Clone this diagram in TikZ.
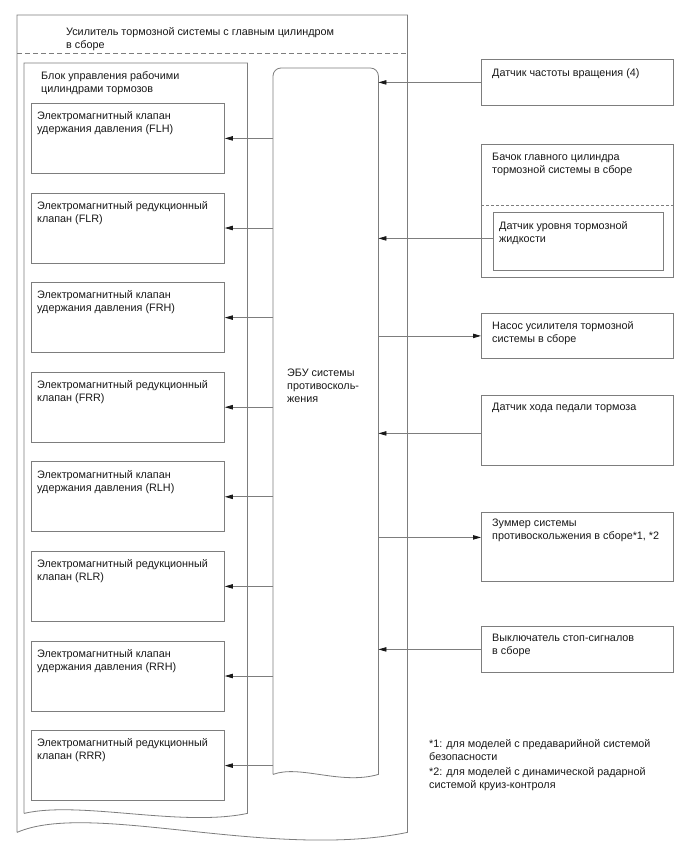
\documentclass[tikz,border=0pt]{standalone}
\usepackage{fontspec}
\setmainfont{Liberation Sans}
\usetikzlibrary{arrows.meta,calc}
\definecolor{lc}{RGB}{125,125,125}
\definecolor{tc}{RGB}{25,25,25}
\begin{document}
\begin{tikzpicture}[x=1pt,y=-1pt,
  line/.style={draw=lc, line width=0.8pt},
  box/.style={line, rectangle, inner sep=0pt, anchor=north west},
  region/.style={inner sep=0pt, anchor=north west},
  txt/.style={text=tc, align=left, inner sep=0pt, anchor=north west, font=\fontsize{10.8}{13}\selectfont},
  arr/.style={draw=lc, line width=0.8pt, -{Triangle[length=8pt,width=4.4pt,color=tc]}},
]
\fill[white] (0,0) rectangle (688,852);
\useasboundingbox (0,0) rectangle (688,852);

% outer assembly
\node[region, minimum width=390, minimum height=817] (booster) at (17,15) {};
\draw[line] (booster.south west) -- (booster.north west) -- (booster.north east) -- (booster.south east)
  .. controls +(-137,28) and +(73,-32) .. (booster.south west);
\coordinate (dl) at (17,53);
\draw[line, dash pattern=on 5pt off 3pt] (dl) -- (dl -| booster.east);
\node[txt] (btitle) at ([xshift=49pt,yshift=-12.5pt]booster.north west)
  {Усилитель тормозной системы с главным цилиндром\\в сборе};

% block of wheel cylinders
\node[region, minimum width=223, minimum height=750] (block) at (24,63) {};
\draw[line] (block.south west) -- (block.north west) -- (block.north east) -- (block.south east)
  .. controls +(-67,14) and +(56,-13) .. (block.south west);
\node[txt] (bltitle) at ([xshift=17pt,yshift=-8.5pt]block.north west)
  {Блок управления рабочими\\цилиндрами тормозов};

% ECU
\node[region, minimum width=105, minimum height=706] (ecu) at (273,68) {};
\draw[line] (ecu.south west) -- ([yshift=-8pt]ecu.north west) arc[start angle=180,end angle=90,radius=8pt]
  -- ([xshift=-8pt]ecu.north east) arc[start angle=90,end angle=0,radius=8pt]
  -- (ecu.south east) .. controls +(-38,11) and +(27,-10) .. (ecu.south west);
\node[txt] (ecutext) at (287,369) {ЭБУ системы\\противосколь-\\жения};

% valves
\foreach \k/\t in {
  1/{Электромагнитный клапан\\удержания давления (FLH)},
  2/{Электромагнитный редукционный\\клапан (FLR)},
  3/{Электромагнитный клапан\\удержания давления (FRH)},
  4/{Электромагнитный редукционный\\клапан (FRR)},
  5/{Электромагнитный клапан\\удержания давления (RLH)},
  6/{Электромагнитный редукционный\\клапан (RLR)},
  7/{Электромагнитный клапан\\удержания давления (RRH)},
  8/{Электромагнитный редукционный\\клапан (RRR)}} {
  \node[box, minimum width=193, minimum height=70] (v\k) at (31,{103+89.6*(\k-1)}) {};
  \node[txt] (vt\k) at ([xshift=6pt,yshift=-8.5pt]v\k.north west) {\t};
  \draw[arr] (v\k.east -| ecu.west) -- (v\k.east);
}

% right side
\node[box, minimum width=192, minimum height=46] (s1) at (481,59) {};
\node[txt] (s1t) at ([xshift=11pt,yshift=-9.5pt]s1.north west) {Датчик частоты вращения (4)};
\draw[arr] (s1.west) -- (s1.west -| ecu.east);

\node[box, minimum width=192, minimum height=133] (tank) at (481,144) {};
\node[txt] (tankt) at ([xshift=11pt,yshift=-8.5pt]tank.north west) {Бачок главного цилиндра\\тормозной системы в сборе};
\coordinate (tl) at (481,205);
\draw[line, dash pattern=on 3pt off 2pt] (tl) -- (tl -| tank.east);
\node[box, minimum width=170, minimum height=58] (lvl) at (493,212) {};
\node[txt] (lvlt) at ([xshift=6pt,yshift=-9.5pt]lvl.north west) {Датчик уровня тормозной\\жидкости};
\draw[arr] ([yshift=3pt]lvl.west) -- ([yshift=3pt]lvl.west -| ecu.east);

\node[box, minimum width=192, minimum height=45] (pump) at (481,313) {};
\node[txt] (pumpt) at ([xshift=11pt,yshift=-8.5pt]pump.north west) {Насос усилителя тормозной\\системы в сборе};
\draw[arr] (pump.west -| ecu.east) -- (pump.west);

\node[box, minimum width=192, minimum height=70] (pedal) at (481,395) {};
\node[txt] (pedalt) at ([xshift=11pt,yshift=-7.5pt]pedal.north west) {Датчик хода педали тормоза};
\draw[arr] ([yshift=-3pt]pedal.west) -- ([yshift=-3pt]pedal.west -| ecu.east);

\node[box, minimum width=192, minimum height=69] (buzz) at (481,512) {};
\node[txt] (buzzt) at ([xshift=11pt,yshift=-6.5pt]buzz.north west) {Зуммер системы\\противоскольжения в сборе*1, *2};
\draw[arr] ([yshift=9.5pt]buzz.west -| ecu.east) -- ([yshift=9.5pt]buzz.west);

\node[box, minimum width=192, minimum height=46] (stop) at (481,626) {};
\node[txt] (stopt) at ([xshift=11pt,yshift=-7.5pt]stop.north west) {Выключатель стоп-сигналов\\в сборе};
\draw[arr] (stop.west) -- (stop.west -| ecu.east);

% footnotes
\node[txt] (fn1) at (429,739) {*1: для моделей с предаварийной системой\\безопасности};
\node[txt] (fn2) at (429,767) {*2: для моделей с динамической радарной\\системой круиз-контроля};
\end{tikzpicture}
\end{document}
